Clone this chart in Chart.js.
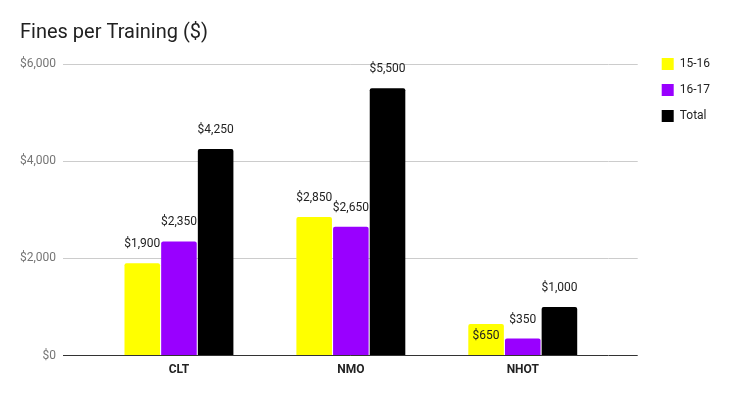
<!DOCTYPE html>
<html>
<head>
<meta charset="utf-8">
<script src="https://cdn.jsdelivr.net/npm/chart.js@4"></script>
<style>
  html, body { margin: 0; padding: 0; background: #fff; }
  #wrap { width: 731px; height: 396px; }
</style>
</head>
<body>
<div id="wrap"><canvas id="finesChart"></canvas></div>
<script>
const categories = ['CLT', 'NMO', 'NHOT'];
const fines1516 = [1900, 2850, 650];
const fines1617 = [2350, 2650, 350];
const finesTotal = [4250, 5500, 1000];
const yTicks = [0, 2000, 4000, 6000];

const money = v => '$' + v.toLocaleString('en-US');
const gridColor = ctx => (ctx.tick && ctx.tick.value === 0) ? '#333333' : '#cccccc';

// value labels over the bars (one sits inside its bar, as in the original)
const barLabels = {
    id: 'barLabels',
    afterDatasetsDraw(chart, args, opts) {
        const ctx = chart.ctx;
        ctx.save();
        ctx.font = '12px Roboto';
        ctx.fillStyle = '#222222';
        ctx.textAlign = 'center';
        ctx.textBaseline = 'middle';
        chart.data.datasets.forEach((ds, di) => {
            chart.getDatasetMeta(di).data.forEach((bar, i) => {
                const inside = opts.inside.some(p => p[0] === di && p[1] === i);
                ctx.fillText(money(ds.data[i]), bar.x, inside ? bar.y + 12 : bar.y - 19);
            });
        });
        ctx.restore();
    }
};

Chart.defaults.font.family = 'Roboto';

new Chart(document.getElementById('finesChart'), {
    type: 'bar',
    data: {
        labels: categories,
        datasets: [
            { label: '15-16', data: fines1516, backgroundColor: '#ffff00' },
            { label: '16-17', data: fines1617, backgroundColor: '#9900ff' },
            { label: 'Total', data: finesTotal, backgroundColor: '#000000' }
        ]
    },
    options: {
        responsive: true,
        maintainAspectRatio: false,
        animation: false,
        categoryPercentage: 0.64,
        barPercentage: 0.97,
        borderRadius: 2,
        layout: { padding: { left: 20, right: 11, top: 0, bottom: 12 } },
        plugins: {
            title: {
                display: true,
                text: 'Fines per Training ($)',
                align: 'start',
                color: '#212121',
                font: { size: 20, weight: 'normal' },
                padding: { top: 21, bottom: 19 }
            },
            legend: {
                position: 'right',
                align: 'start',
                title: { display: true, text: '', font: { size: 10, lineHeight: 1 }, padding: { top: 34, bottom: 0 } },
                labels: { boxWidth: 12, boxHeight: 12, padding: 14, color: '#222222', font: { size: 12 } }
            },
            tooltip: { enabled: false },
            barLabels: { inside: [[0, 2]] }
        },
        scales: {
            x: {
                grid: { display: false, drawTicks: false },
                border: { display: false },
                ticks: { color: '#222222', font: { size: 12, weight: 'bold' }, padding: 7 }
            },
            y: {
                min: 0,
                max: 6000,
                afterBuildTicks: axis => { axis.ticks = yTicks.map(v => ({ value: v })); },
                afterFit: axis => { axis.width = 73; },
                border: { display: false },
                grid: { color: gridColor, tickLength: 30 },
                ticks: { color: '#757575', font: { size: 12 }, padding: 7, callback: v => money(v) }
            },
            y2: {
                position: 'right',
                min: 0,
                max: 6000,
                afterBuildTicks: axis => { axis.ticks = yTicks.map(v => ({ value: v })); },
                afterFit: axis => { axis.width = 39; },
                border: { display: false },
                grid: { color: gridColor, tickLength: 29, drawOnChartArea: false },
                ticks: { display: false }
            }
        }
    },
    plugins: [barLabels]
});
</script>
</body>
</html>
